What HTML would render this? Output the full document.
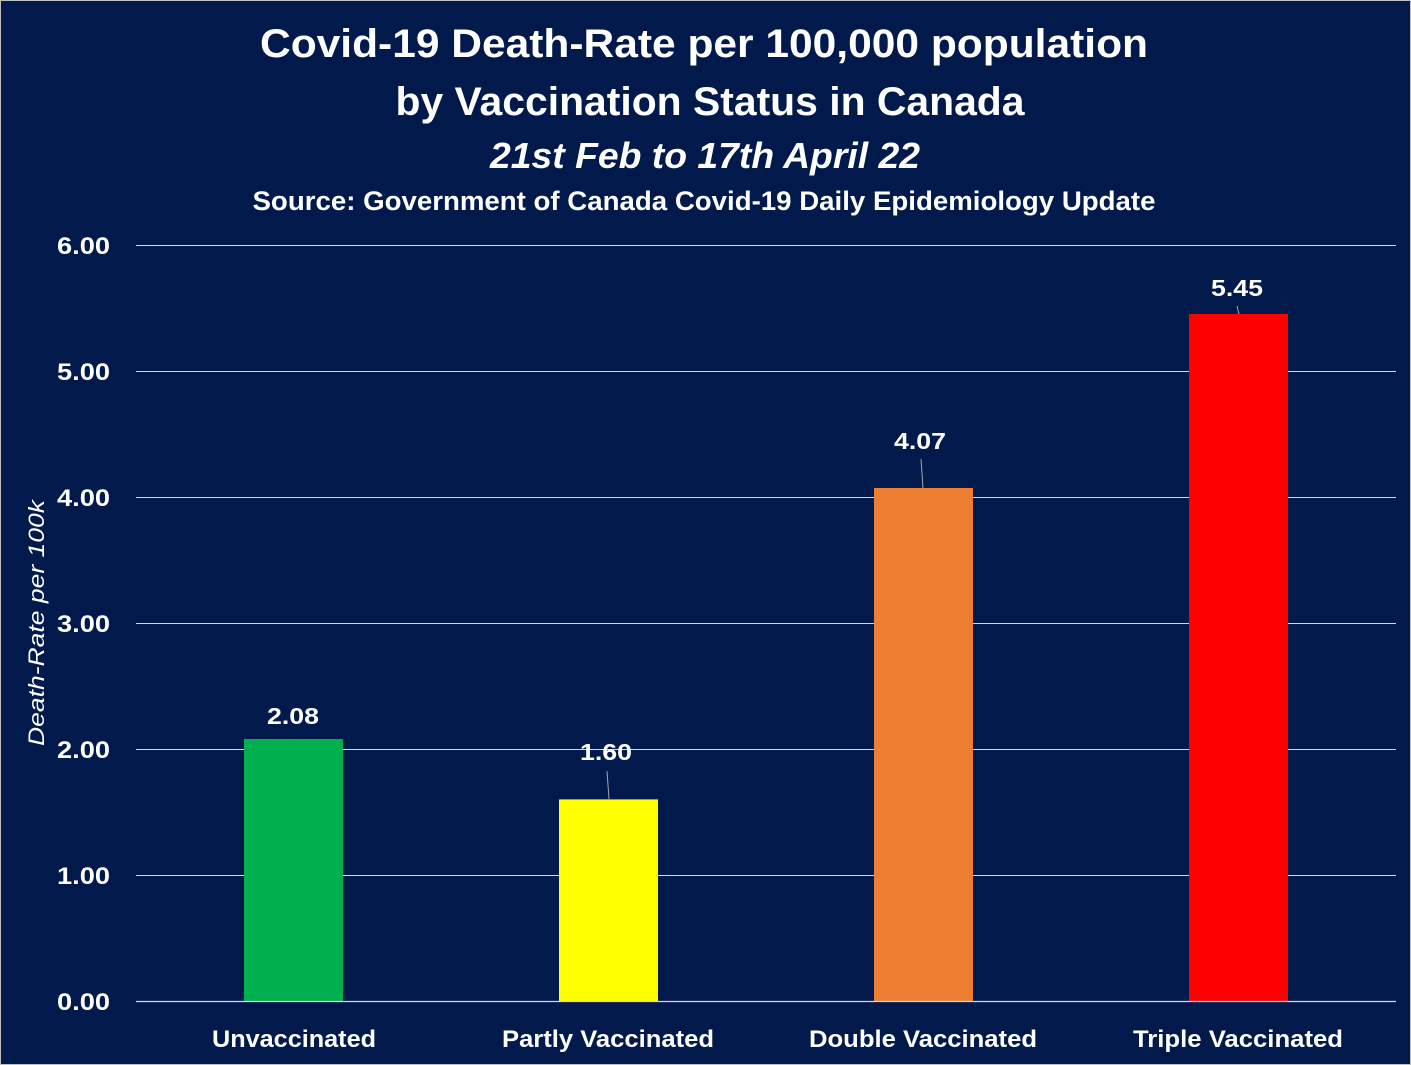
<!DOCTYPE html>
<html><head><meta charset="utf-8"><style>
html,body{margin:0;padding:0;background:#011a4b;}
svg{display:block;}
text{font-family:"Liberation Sans",sans-serif;fill:#fff;font-weight:bold;}
</style></head><body>
<svg width="1411" height="1065" viewBox="0 0 1411 1065" xmlns="http://www.w3.org/2000/svg">
<rect x="0.5" y="0.5" width="1410" height="1064" fill="#011a4b" stroke="#bfbfbf" stroke-width="1"/>
<text x="704" y="57" font-size="40" text-anchor="middle" textLength="888" lengthAdjust="spacingAndGlyphs">Covid-19 Death-Rate per 100,000 population</text>
<text x="710" y="115" font-size="40" text-anchor="middle" textLength="629" lengthAdjust="spacingAndGlyphs">by Vaccination Status in Canada</text>
<text x="705" y="168" font-size="36" font-style="italic" text-anchor="middle" textLength="430" lengthAdjust="spacingAndGlyphs">21st Feb to 17th April 22</text>
<text x="704" y="210" font-size="27" text-anchor="middle" textLength="903" lengthAdjust="spacingAndGlyphs">Source: Government of Canada Covid-19 Daily Epidemiology Update</text>
<g stroke="#d9d9d9" stroke-width="1">
<line x1="136" x2="1396" y1="245.5" y2="245.5"/>
<line x1="136" x2="1396" y1="371.5" y2="371.5"/>
<line x1="136" x2="1396" y1="497.5" y2="497.5"/>
<line x1="136" x2="1396" y1="623.5" y2="623.5"/>
<line x1="136" x2="1396" y1="749.5" y2="749.5"/>
<line x1="136" x2="1396" y1="875.5" y2="875.5"/>
</g>
<g font-size="24" text-anchor="end">
<text x="110" y="254" textLength="53" lengthAdjust="spacingAndGlyphs">6.00</text>
<text x="110" y="380" textLength="53" lengthAdjust="spacingAndGlyphs">5.00</text>
<text x="110" y="506" textLength="53" lengthAdjust="spacingAndGlyphs">4.00</text>
<text x="110" y="632" textLength="53" lengthAdjust="spacingAndGlyphs">3.00</text>
<text x="110" y="758" textLength="53" lengthAdjust="spacingAndGlyphs">2.00</text>
<text x="110" y="884" textLength="53" lengthAdjust="spacingAndGlyphs">1.00</text>
<text x="110" y="1010" textLength="53" lengthAdjust="spacingAndGlyphs">0.00</text>
</g>
<rect x="244" y="739" width="99" height="262" fill="#00b04f"/>
<rect x="559" y="799.4" width="99" height="201.6" fill="#ffff00"/>
<rect x="874" y="488" width="99" height="513" fill="#ed7d31"/>
<rect x="1189" y="314" width="99" height="687" fill="#ff0000"/>
<line x1="136" x2="1396" y1="1001.5" y2="1001.5" stroke="#d9d9d9" stroke-width="1.2"/>
<g stroke="#a6a6a6" stroke-width="1">
<line x1="607" y1="771" x2="609" y2="799"/>
<line x1="921" y1="459" x2="923" y2="488"/>
<line x1="1237" y1="306" x2="1239" y2="314"/>
</g>
<g font-size="23" text-anchor="middle">
<text x="293" y="724" textLength="52" lengthAdjust="spacingAndGlyphs">2.08</text>
<text x="606" y="760" textLength="52" lengthAdjust="spacingAndGlyphs">1.60</text>
<text x="920" y="449" textLength="52" lengthAdjust="spacingAndGlyphs">4.07</text>
<text x="1237" y="296" textLength="52" lengthAdjust="spacingAndGlyphs">5.45</text>
</g>
<g font-size="24" text-anchor="middle">
<text x="294" y="1047" textLength="164" lengthAdjust="spacingAndGlyphs">Unvaccinated</text>
<text x="608" y="1047" textLength="212" lengthAdjust="spacingAndGlyphs">Partly Vaccinated</text>
<text x="923" y="1047" textLength="228" lengthAdjust="spacingAndGlyphs">Double Vaccinated</text>
<text x="1238" y="1047" textLength="210" lengthAdjust="spacingAndGlyphs">Triple Vaccinated</text>
</g>
<text x="0" y="0" font-size="22" font-style="italic" style="font-weight:normal" text-anchor="middle" transform="translate(44,623) rotate(-90)" textLength="246" lengthAdjust="spacingAndGlyphs">Death-Rate per 100k</text>
</svg>
</body></html>
